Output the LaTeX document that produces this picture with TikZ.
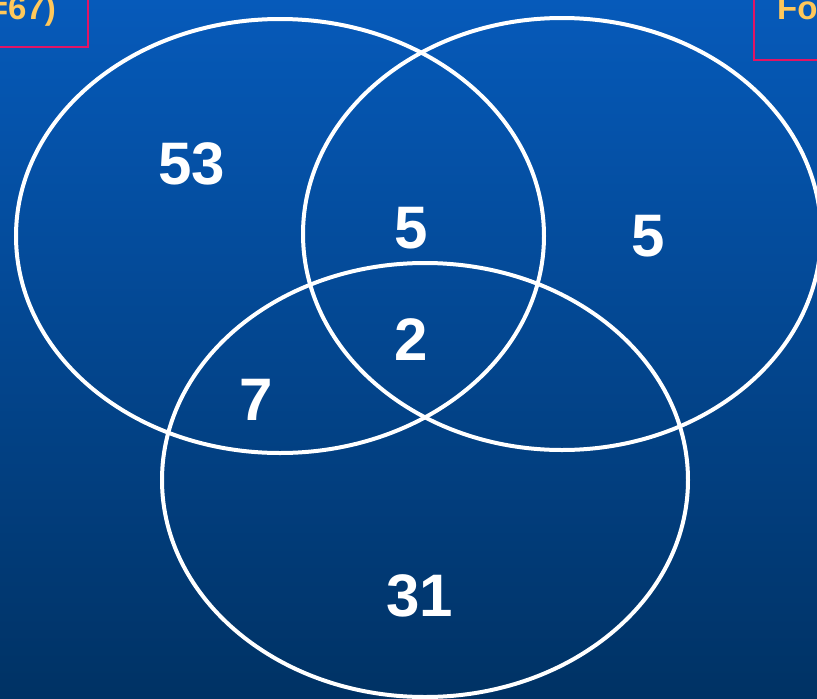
\documentclass[tikz,border=0pt]{standalone}
\usepackage{fontspec}
\setmainfont{Liberation Sans}
\usetikzlibrary{positioning}
\definecolor{skytop}{RGB}{6,90,186}
\definecolor{skybottom}{RGB}{0,50,100}
\definecolor{tagrim}{RGB}{226,20,100}
\definecolor{taggold}{RGB}{255,200,90}
\tikzset{
  setring/.style={draw=white,line width=4pt},
  count/.style={text=white,font=\fontsize{60}{66}\selectfont\bfseries,inner sep=0pt},
  tagbox/.style={draw=tagrim,line width=1.6pt},
  tagtext/.style={text=taggold,font=\fontsize{33}{38}\selectfont\bfseries,inner sep=0pt}
}
\begin{document}
\begin{tikzpicture}[x=1pt,y=-1pt]
  \useasboundingbox (0,0) rectangle (817,699);
  \clip (0,0) rectangle (817,699);
  \shade[top color=skytop,bottom color=skybottom] (0,0) rectangle (817,699);
  % legend boxes, cut by the page edge
  \draw[tagbox] (-40,-10) rectangle (88,47);
  \draw[tagbox] (754,-10) rectangle (860,60);
  \node[tagtext,anchor=base east] (leftTag) at (56,19) {=67)};
  \node[tagtext,anchor=base west] (rightTag) at (777,19) {Fo};
  % the three sets
  \draw[setring] (280,236) ellipse [x radius=264,y radius=217];
  \draw[setring] (562,234) ellipse [x radius=259,y radius=216];
  \draw[setring] (425,480) ellipse [x radius=263,y radius=217];
  % region counts
  \node[count] (onlyA) at (192,164) {53};
  \node[count] (AB) at (411,228) {5};
  \node[count] (onlyB) at (648,236) {5};
  \node[count] (ABC) at (411,340) {2};
  \node[count] (AC) at (256,400) {7};
  \node[count] (onlyC) at (420,596) {31};
\end{tikzpicture}
\end{document}
